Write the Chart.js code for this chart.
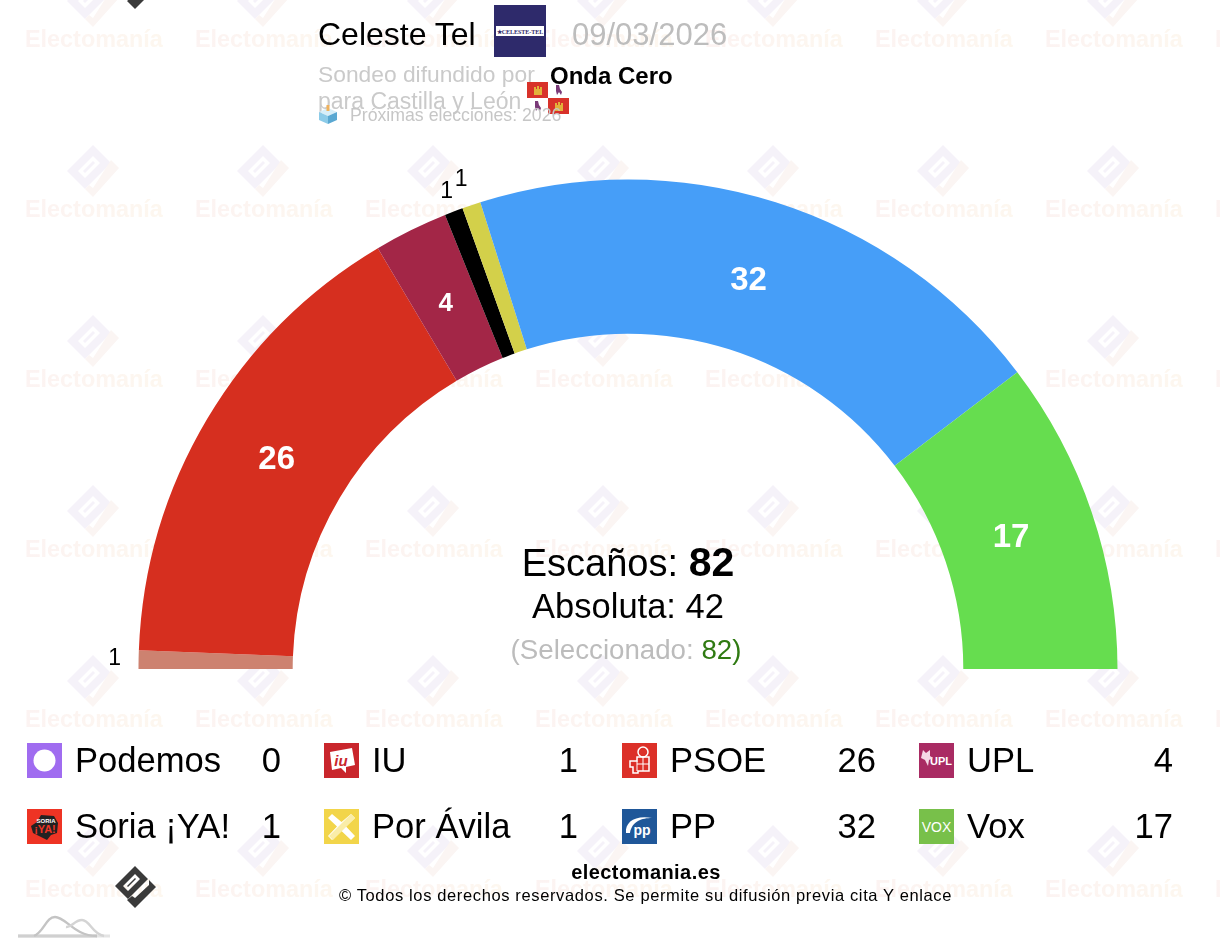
<!DOCTYPE html>
<html lang="es">

<head>
    <meta charset="UTF-8">
    <title>Celeste Tel - Castilla y León</title>
    <style>
        html, body { margin: 0; padding: 0; background: #fff; }
        body { width: 1220px; height: 944px; position: relative; overflow: hidden; font-family: "Liberation Sans", Arial, sans-serif; color: #000; }
        .t { position: absolute; white-space: nowrap; line-height: 1; }
        .c { transform: translateX(-50%); }
        .r { transform: translateX(-100%); }
        .ic { position: absolute; width: 35px; height: 35px; }
        #wm, #myChart { position: absolute; left: 0; top: 0; }
        svg { display: block; }
    </style>
</head>

<body>
    <!-- watermark -->
    <svg id="wm" width="1220" height="944">
        <defs>
            <linearGradient id="wt" x1="0" x2="1" y1="0" y2="0">
                <stop offset="0" stop-color="#fcf3f2" />
                <stop offset="1" stop-color="#fdf7ef" />
            </linearGradient>
            <pattern id="tile" width="170" height="170" patternUnits="userSpaceOnUse" x="8" y="-40">
                <path d="M85 15 L59 41 L77 59 L103 33 Z M70 41 L85 26 L92 33 L77 48 Z" fill="#f5f2f9" fill-rule="evenodd" />
                <path d="M75 41 L85 31 L87 33 L77 43 Z" fill="#f5f2f9" />
                <path d="M103 30 L111 38 L85 67 L77 59 L81 55 L85 58 Z" fill="#fbf5f3" />
                <text x="17" y="87" font-family="Liberation Sans" font-weight="700" font-size="23.4" fill="url(#wt)">Electomanía</text>
            </pattern>
        </defs>
        <rect width="1220" height="944" fill="url(#tile)" />
    </svg>

    <canvas id="myChart" width="1220" height="944"></canvas>

    <!-- header -->
    <div class="t" style="left:318px;top:18px;font-size:32px">Celeste Tel</div>
    <svg style="position:absolute;left:494px;top:5px" width="52" height="52">
        <rect width="52" height="52" fill="#2e2a6b" />
        <rect x="2" y="21" width="48" height="10" fill="#fff" />
        <text x="26" y="29" text-anchor="middle" font-family="Liberation Serif" font-weight="700" font-size="6" fill="#2e2a6b">★CELESTE-TEL</text>
    </svg>
    <div class="t" style="left:572px;top:18.5px;font-size:31px;color:#bdbdbd">09/03/2026</div>
    <div class="t" style="left:318px;top:63px;font-size:22.8px;color:#cacaca">Sondeo difundido por</div>
    <div class="t" style="left:550px;top:64px;font-size:24px;font-weight:700">Onda Cero</div>
    <div class="t" style="left:318px;top:90px;font-size:23px;color:#cacaca">para Castilla y León</div>
    <svg style="position:absolute;left:527px;top:82px" width="43" height="33">
        <rect width="21" height="16" fill="#d8322a" />
        <rect x="21" y="16" width="21" height="16" fill="#d8322a" />
        <path d="M7 13 V5 H9 V7 H10 V4 H12 V7 H13 V5 H15 V13 Z" fill="#e2b23a" />
        <path d="M28 29 V21 H30 V23 H31 V20 H33 V23 H34 V21 H36 V29 Z" fill="#e2b23a" />
        <path d="M29 3 L32 3 L33 7 L35 10 L34 13 L32 10 L30 13 L29 9 Z" fill="#7a3a78" />
        <path d="M8 19 L11 19 L12 23 L14 26 L13 29 L11 26 L9 29 L8 25 Z" fill="#7a3a78" />
    </svg>
    <svg style="position:absolute;left:318px;top:105px" width="20" height="20">
        <path d="M1 7 L10 3 L19 7 L10 11 Z" fill="#d7eef8" />
        <path d="M1 7 L10 11 V19 L1 15 Z" fill="#8ccbe8" />
        <path d="M19 7 L10 11 V19 L19 15 Z" fill="#5aa8d2" />
        <rect x="8.5" y="0" width="3" height="6" fill="#efb15c" />
    </svg>
    <div class="t" style="left:350px;top:106.5px;font-size:17.7px;color:#c6c6c6">Próximas elecciones: 2026</div>

    <!-- center text -->
    <div class="t c" style="left:628px;top:542px;font-size:38px">Escaños: <b style="font-size:41px">82</b></div>
    <div class="t c" style="left:628px;top:589px;font-size:34.5px">Absoluta: 42</div>
    <div class="t c" style="left:626px;top:636px;font-size:27.7px;color:#bcbcbc">(Seleccionado: <span style="color:#2f7a12">82)</span></div>

    <div id="legend"></div>

    <!-- footer -->
    <div class="t c" style="left:646px;top:862px;font-size:20px;font-weight:700;letter-spacing:.45px">electomania.es</div>
    <div class="t c" style="left:645.5px;top:887px;font-size:16.5px;letter-spacing:.63px">© Todos los derechos reservados. Se permite su difusión previa cita Y enlace</div>
    <svg style="position:absolute;left:113px;top:-34px" width="44" height="44">
        <use href="#logo" />
    </svg>
    <svg style="position:absolute;left:113px;top:865px" width="44" height="44">
        <g id="logo">
            <path d="M22 1 L2 21 L15 34 L35 14 Z M10 21 L22 9 L27 14 L15 26 Z" fill="#3a3a3a" fill-rule="evenodd" />
            <path d="M14 21 L22 13 L23 14 L15 22 Z" fill="#3a3a3a" />
            <path d="M36 15 L43 22 L22 43 L14 35 L19 31 L22 33 L36 20 Z" fill="#3a3a3a" />
        </g>
    </svg>
    <svg style="position:absolute;left:16px;top:912px" width="96" height="28">
        <path d="M2 24 H94" stroke="#e4e4e4" stroke-width="3" fill="none" />
        <path d="M2 24 H81" stroke="#d0d0d0" stroke-width="3" fill="none" />
        <path d="M18 24 C28 20 30 5 39 5 C50 5 58 24 81 24" stroke="#c4c4c4" stroke-width="2.4" fill="none" />
        <path d="M50 15 C56 16 58 8 66 8 C74 8 76 22 88 24" stroke="#d4d4d4" stroke-width="2.4" fill="none" />
    </svg>

    <script src="https://cdn.jsdelivr.net/npm/chart.js"></script>
    <script>
        // partidos, en orden de izquierda a derecha
        const parties = ['Podemos', 'Soria ¡YA!', 'PSOE', 'UPL', 'IU', 'Por Ávila', 'PP', 'Vox'];
        const seats = [0, 1, 26, 4, 1, 1, 32, 17];
        const sliceColors = ['#a06cf0', '#cd8270', '#d62f1f', '#a32647', '#000000', '#d3d04a', '#469ef8', '#66dd4f'];
        // leyenda: dos filas, por columnas
        const legendOrder = ['Podemos', 'IU', 'PSOE', 'UPL', 'Soria ¡YA!', 'Por Ávila', 'PP', 'Vox'];
        const iconColors = ['#a06cf0', '#c9262c', '#dc3028', '#a92b63', '#ee3424', '#f2d54a', '#1f5799', '#78c04a'];
        const iconMarks = {
            'Podemos': '<circle cx="17.5" cy="17.5" r="11" fill="#fff"/>',
            'IU': '<path d="M6 9 L28 5 L31 22 L22 24 L22 30 L17 25 L8 27 Z" fill="#fff"/><text x="17" y="23" text-anchor="middle" font-size="15" font-weight="700" font-style="italic" fill="#c9262c">iu</text>',
            'Soria ¡YA!': '<path d="M4 17 L10 13 L14 6 L27 7 L31 14 L30 24 L24 26 L20 31 L12 27 L6 24 Z" fill="#222"/><text x="19" y="14" text-anchor="middle" font-size="6" font-weight="700" fill="#fff">SORIA</text><text x="18" y="24" text-anchor="middle" font-size="11" font-weight="700" fill="#ee3424">¡YA!</text>',
            'Por Ávila': '<path d="M8 5 L17.5 13 L27 5 L31 9 L22 17.5 L31 27 L27 31 L17.5 22 L8 31 L4 27 L13 17.5 L4 9 Z" fill="#fff"/><path d="M27 5 L31 9 L9 31 L5 27 Z" fill="#faeda8"/>',
            'PSOE': '<circle cx="21" cy="9" r="5" fill="none" stroke="#fff" stroke-width="1.5"/><path d="M15 14 H27 V28 H16 V30 H11 V24 H8 V18 H15 Z" fill="none" stroke="#fff" stroke-width="1.5"/><path d="M15 18 V28 M21 14 V28 M15 21 H27" stroke="#fff"/>',
            'PP': '<path d="M4 24 C3 13 13 6 30 9 C20 9 10 12 8 24 Z" fill="#fff"/><text x="20" y="26" text-anchor="middle" font-size="14" font-weight="700" fill="#fff">pp</text>',
            'UPL': '<text x="22" y="22" text-anchor="middle" font-size="11" font-weight="700" fill="#fff">UPL</text><path d="M4 7 L7 10 L11 7 L11 13 L14 15 L10 17 L9 23 L6 17 L2 15 Z" fill="#f5d9e6"/>',
            'Vox': '<text x="17.5" y="23" text-anchor="middle" font-size="14" fill="#fff">VOX</text>'
        };
        const legendCols = [27, 324, 622, 919];
        const legendRows = [743, 809];

        // leyenda en html
        const legendBox = document.getElementById('legend');
        legendOrder.forEach(function (name, i) {
            const x = legendCols[i % 4];
            const y = legendRows[Math.floor(i / 4)];
            legendBox.insertAdjacentHTML('beforeend',
                '<svg class="ic" viewBox="0 0 35 35" style="left:' + x + 'px;top:' + y + 'px;font-family:Liberation Sans">' +
                '<rect width="35" height="35" fill="' + iconColors[i] + '"/>' + iconMarks[name] + '</svg>' +
                '<div class="t" style="left:' + (x + 48) + 'px;top:' + y + 'px;font-size:34.6px">' + name + '</div>' +
                '<div class="t r" style="left:' + (x + 254) + 'px;top:' + y + 'px;font-size:34.6px">' + seats[parties.indexOf(name)] + '</div>');
        });

        // numeros sobre cada porcion
        const seatLabels = {
            id: 'seatLabels',
            afterDatasetsDraw: function (chart) {
                const ctx = chart.ctx;
                ctx.save();
                ctx.textAlign = 'center';
                ctx.textBaseline = 'middle';
                chart.getDatasetMeta(0).data.forEach(function (arc, i) {
                    if (seats[i] == 0) return;
                    const p = arc.getProps(['x', 'y', 'startAngle', 'endAngle', 'innerRadius', 'outerRadius'], true);
                    const a = (p.startAngle + p.endAngle) / 2;
                    let r = (p.innerRadius + p.outerRadius) / 2 - 6;
                    let dx = -2, dy = -1;
                    if (seats[i] == 1) {
                        // pequeñas fuera del arco
                        r = p.outerRadius + (parties[i] == 'Por Ávila' ? 26 : parties[i] == 'IU' ? 20 : 24);
                        dx = parties[i] == 'Por Ávila' ? -2 : 0;
                        ctx.fillStyle = '#000';
                        ctx.font = '23px "Liberation Sans"';
                    } else {
                        ctx.fillStyle = '#fff';
                        ctx.font = 'bold ' + (seats[i] < 10 ? 26 : 33) + 'px "Liberation Sans"';
                    }
                    ctx.fillText(seats[i], p.x + Math.cos(a) * r + dx, p.y + Math.sin(a) * r + dy);
                });
                ctx.restore();
            }
        };

        new Chart(document.getElementById('myChart'), {
            type: 'doughnut',
            data: {
                labels: parties,
                datasets: [{
                    data: seats,
                    backgroundColor: sliceColors,
                    borderWidth: 0
                }]
            },
            options: {
                responsive: false,
                animation: false,
                rotation: -90,
                circumference: 180,
                cutout: '68.5%',
                layout: { padding: { left: 138.5, right: 102.5, top: 179.5, bottom: 275 } },
                plugins: { legend: { display: false }, tooltip: { enabled: false } }
            },
            plugins: [seatLabels]
        });
    </script>
</body>

</html>
